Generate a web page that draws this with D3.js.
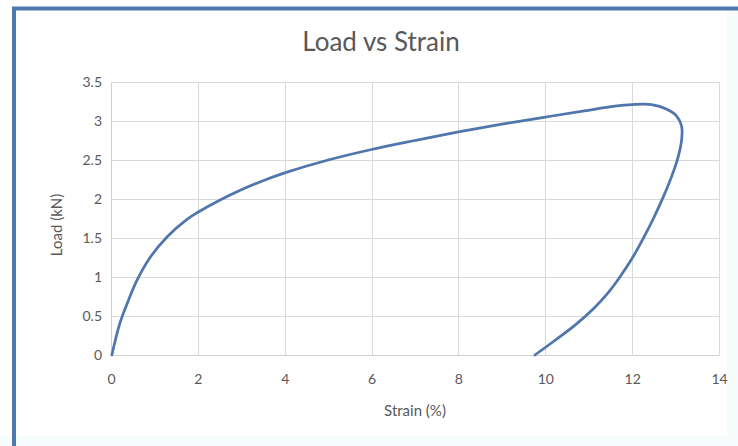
<!DOCTYPE html>
<html>
<head>
<meta charset="utf-8">
<script src="https://cdn.jsdelivr.net/npm/d3@7"></script>
<style>
  html, body { margin: 0; padding: 0; background: #ffffff; }
  svg { display: block; }
</style>
</head>
<body>
<script>
// ---- Data ----
const strain = [0.02, 0.20, 0.40, 0.60, 0.90, 1.30, 1.75, 2.00, 2.50, 3.00, 3.50, 4.00, 5.00, 6.00, 7.00, 8.00, 9.00, 10.00, 10.90, 11.60, 12.00, 12.45, 12.80, 13.03, 13.14, 13.14, 13.06, 12.91, 12.72, 12.49, 12.26, 11.99, 11.73, 11.45, 11.12, 10.70, 10.18, 9.76];
const load   = [0.00, 0.40, 0.70, 0.96, 1.25, 1.52, 1.74, 1.83, 1.985, 2.12, 2.235, 2.335, 2.50, 2.635, 2.75, 2.86, 2.96, 3.05, 3.13, 3.19, 3.21, 3.21, 3.15, 3.06, 2.93, 2.76, 2.54, 2.29, 2.03, 1.75, 1.50, 1.23, 1.01, 0.80, 0.60, 0.39, 0.17, 0.00];
const xTicks = [0, 2, 4, 6, 8, 10, 12, 14];
const yTicks = [0, 0.5, 1, 1.5, 2, 2.5, 3, 3.5];
const chartTitle = "Load vs Strain";
const xTitle = "Strain (%)";
const yTitle = "Load (kN)";

const W = 738, H = 446;
const plot = { left: 111, right: 719, top: 82, bottom: 355 };
const font = "Lato, 'Open Sans', sans-serif";

const svg = d3.select("body").append("svg").attr("width", W).attr("height", H);

// faint outer tints
svg.append("rect").attr("x", 0).attr("y", 436).attr("width", W).attr("height", 10).attr("fill", "#f6fbfb");
svg.append("rect").attr("x", 727).attr("y", 10).attr("width", 11).attr("height", 436).attr("fill", "#f8fbfc");

// frame (top and left borders)
svg.append("line").attr("x1", 12).attr("x2", W).attr("y1", 8.5).attr("y2", 8.5)
  .attr("stroke", "#4e79b0").attr("stroke-width", 4);
svg.append("line").attr("x1", 14).attr("x2", 14).attr("y1", 7).attr("y2", H)
  .attr("stroke", "#4e79b0").attr("stroke-width", 4);

const x = d3.scaleLinear().domain([0, 14]).range([plot.left, plot.right]);
const y = d3.scaleLinear().domain([0, 3.5]).range([plot.bottom, plot.top]);

// gridlines
const grid = svg.append("g");
grid.selectAll("line.h").data(yTicks).join("line")
  .attr("x1", plot.left).attr("x2", plot.right)
  .attr("y1", d => Math.round(y(d)) + 0.5).attr("y2", d => Math.round(y(d)) + 0.5)
  .attr("stroke", "#d9d9d9").attr("stroke-width", 1);
grid.selectAll("line.v").data(xTicks).join("line")
  .attr("y1", plot.top).attr("y2", plot.bottom)
  .attr("x1", d => Math.round(x(d)) + 0.5).attr("x2", d => Math.round(x(d)) + 0.5)
  .attr("stroke", "#d9d9d9").attr("stroke-width", 1);

// axes (labels only; lines via grid)
const xAxis = svg.append("g").attr("transform", `translate(0,${plot.bottom})`)
  .call(d3.axisBottom(x).tickValues(xTicks).tickSize(0).tickPadding(19).tickFormat(d3.format("")));
const yAxis = svg.append("g").attr("transform", `translate(${plot.left},0)`)
  .call(d3.axisLeft(y).tickValues(yTicks).tickSize(0).tickPadding(9).tickFormat(d3.format("")));
[xAxis, yAxis].forEach(g => {
  g.select(".domain").attr("stroke", "#d0d0d0");
  g.selectAll("text").attr("fill", "#595959").style("font-family", font).style("font-size", "14px");
});

// curve
const pts = strain.map((s, i) => [s, load[i]]);
svg.append("path").datum(pts)
  .attr("fill", "none").attr("stroke", "#4f76ad").attr("stroke-width", 2.75)
  .attr("stroke-linejoin", "round").attr("stroke-linecap", "round")
  .attr("d", d3.line().x(d => x(d[0])).y(d => y(d[1])).curve(d3.curveCatmullRom.alpha(0.5)));

// titles
svg.append("text").attr("x", 381).attr("y", 51).attr("text-anchor", "middle")
  .attr("fill", "#595959").style("font-family", font).style("font-size", "26px").text(chartTitle);
svg.append("text").attr("x", 415).attr("y", 416).attr("text-anchor", "middle")
  .attr("fill", "#595959").style("font-family", font).style("font-size", "15px").text(xTitle);
svg.append("text").attr("transform", "translate(62,225) rotate(-90)").attr("text-anchor", "middle")
  .attr("fill", "#595959").style("font-family", font).style("font-size", "15px").text(yTitle);
</script>
</body>
</html>
